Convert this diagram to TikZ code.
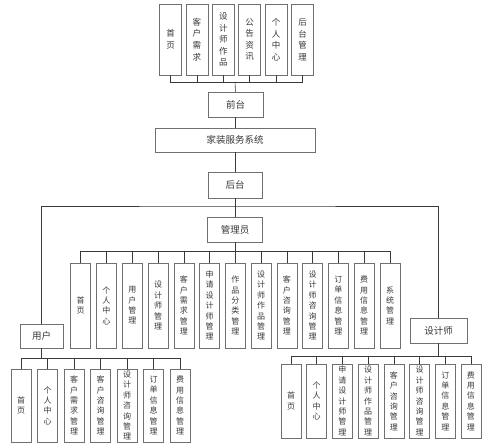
\documentclass[tikz,border=0pt]{standalone}
\usepackage{fontspec}
\newfontfamily\cjk{Noto Sans CJK SC}
\definecolor{boxc}{HTML}{707070}
\definecolor{txtc}{HTML}{383838}
\definecolor{linec}{HTML}{3A3A3A}
\begin{document}
\begin{tikzpicture}[x=1pt,y=-1pt,
  box/.style={draw=boxc, line width=0.6pt, fill=white, inner sep=0pt, align=center, text=txtc},
  vbox/.style={box, minimum width=20pt, font=\cjk\fontsize{8}{10.4}\selectfont},
  hbox/.style={box, font=\cjk\fontsize{9.5}{10}\selectfont},
  link/.style={draw=linec, line width=0.6pt}]
\useasboundingbox (0,0) rectangle (500,443);
% top row
\foreach \lab [count=\i from 0] in {{首\\页},{客\\户\\需\\求},{设\\计\\师\\作\\品},{公\\告\\资\\讯},{个\\人\\中\\心},{后\\台\\管\\理}}
  \node[vbox, minimum width=22pt, minimum height=71pt, font=\cjk\fontsize{8.5}{11.6}\selectfont] (t\i) at ({170.5+26.4*\i},39.5) {\lab};
\node[hbox, minimum width=55pt, minimum height=25pt] (qt) at (235.5,104.5) {前台};
\node[hbox, minimum width=160pt, minimum height=24pt] (jz) at (235,140) {家装服务系统};
\node[hbox, minimum width=54pt, minimum height=26pt] (ht) at (235,185) {后台};
\node[hbox, minimum width=55pt, minimum height=25pt] (gly) at (235,229.5) {管理员};
\node[hbox, minimum width=43pt, minimum height=24pt] (yh) at (41.5,336) {用户};
\node[hbox, minimum width=57pt, minimum height=25pt] (sjs) at (438.5,330.5) {设计师};
% admin children
\foreach \lab [count=\i from 0] in {{首\\页},{个\\人\\中\\心},{用\\户\\管\\理},{设\\计\\师\\管\\理},{客\\户\\需\\求\\管\\理},{申\\请\\设\\计\\师\\管\\理},{作\\品\\分\\类\\管\\理},{设\\计\\师\\作\\品\\管\\理},{客\\户\\咨\\询\\管\\理},{设\\计\\师\\咨\\询\\管\\理},{订\\单\\信\\息\\管\\理},{费\\用\\信\\息\\管\\理},{系\\统\\管\\理}}
  \node[vbox, minimum height=85pt] (a\i) at ({80.7+25.775*\i},305.5) {\lab};
% user children
\foreach \lab [count=\i from 0] in {{首\\页},{个\\人\\中\\心},{客\\户\\需\\求\\管\\理},{客\\户\\咨\\询\\管\\理},{设\\计\\师\\咨\\询\\管\\理},{订\\单\\信\\息\\管\\理},{费\\用\\信\\息\\管\\理}}
  \node[vbox, minimum height=73pt] (u\i) at ({21+26.5*\i},405.5) {\lab};
% designer children
\foreach \lab [count=\i from 0] in {{首\\页},{个\\人\\中\\心},{申\\请\\设\\计\\师\\管\\理},{设\\计\\师\\作\\品\\管\\理},{客\\户\\咨\\询\\管\\理},{设\\计\\师\\咨\\询\\管\\理},{订\\单\\信\\息\\管\\理},{费\\用\\信\\息\\管\\理}}
  \node[vbox, minimum height=74pt] (d\i) at ({291+25.71*\i},401) {\lab};
% connectors
\coordinate (tb) at (235,82);
\foreach \i in {0,...,5} \draw[link] (t\i.south) |- (tb);
\draw[link] (tb) -- (qt.north);
\draw[link] (qt.south) -- (qt.south |- jz.north);
\draw[link] (ht.north |- jz.south) -- (ht.north);
\draw[link] (ht.south) -- (gly.north);
\coordinate (rt) at (235,206);
\draw[link] (yh.north) |- (rt) -| (sjs.north);
\coordinate (ab) at (235,251);
\foreach \i in {0,...,12} \draw[link] (a\i.north) |- (ab);
\draw[link] (gly.south) -- (ab);
\coordinate (ub) at (41.5,358);
\foreach \i in {0,...,6} \draw[link] (u\i.north) |- (ub);
\draw[link] (yh.south) -- (ub);
\coordinate (db) at (438.5,356);
\foreach \i in {0,...,7} \draw[link] (d\i.north) |- (db);
\draw[link] (sjs.south) -- (db);
\end{tikzpicture}
\end{document}
